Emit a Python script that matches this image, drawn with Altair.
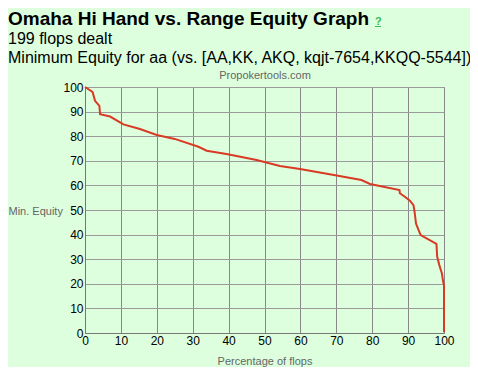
import altair as alt
import pandas as pd

pct = [0, 2.1, 2.8, 4.0, 4.2, 7.0, 10.7, 15.3, 20.0, 25.0, 31.6, 33.9, 39.4, 47.8, 54.3,
       59.9, 70.1, 77.0, 79.4, 87.6, 87.7, 89.1, 90.5, 91.5, 91.8, 92.2, 92.9, 93.5,
       97.9, 98.1, 98.7, 99.4, 99.8, 100.0, 100.0]
equity = [100, 98.0, 94.4, 92.3, 88.9, 88.0, 84.8, 82.9, 80.5, 78.9, 75.7, 74.1, 72.8, 70.3, 67.9,
          66.7, 64.0, 62.2, 60.6, 58.1, 56.8, 55.4, 53.8, 52.0, 49.3, 44.5, 41.9, 39.8,
          36.2, 31.0, 27.6, 24.3, 20.6, 19.5, 0.3]
ticks = [0, 10, 20, 30, 40, 50, 60, 70, 80, 90, 100]

title = "Omaha Hi Hand vs. Range Equity Graph"
sub1 = "199 flops dealt"
sub2 = "Minimum Equity for aa (vs. [AA,KK, AKQ, kqjt-7654,KKQQ-5544])"

df = pd.DataFrame({"pct": pct, "equity": equity, "order": list(range(len(pct)))})

W, H = 359, 246
FONT = "Liberation Sans"

base = alt.Chart(df)

line = base.mark_line(color="#d83a25", strokeWidth=2, interpolate="linear").encode(
    x=alt.X("pct:Q", scale=alt.Scale(domain=[0, 100], nice=False),
            axis=alt.Axis(values=ticks, title="Percentage of flops", grid=True,
                          gridColor="#888888", gridOpacity=1, domainColor="#777777",
                          ticks=False, labelPadding=2, labelFontSize=12, labelColor="#000000",
                          labelFlush=False, labelOverlap=False,
                          labelFont=FONT, titleFont=FONT, titleFontSize=11, titleFontWeight="normal",
                          titleColor="#666666", titlePadding=9)),
    y=alt.Y("equity:Q", scale=alt.Scale(domain=[0, 100], nice=False),
            axis=alt.Axis(values=ticks, title="Min. Equity", grid=True,
                          gridColor="#9a9a9a", gridOpacity=1, domainColor="#777777",
                          ticks=False, labelPadding=2, labelFontSize=12, labelColor="#000000",
                          labelFlush=False, labelOverlap=False,
                          labelFont=FONT, titleFont=FONT, titleFontSize=11, titleFontWeight="normal",
                          titleColor="#666666", titleAngle=0, titleAlign="left",
                          titleBaseline="middle", titleX=-77, titleY=124)),
    order="order:Q",
)

def txt(s, x, y, size, weight="normal", color="#000000", align="left"):
    return alt.Chart(pd.DataFrame({"t": [s]})).mark_text(
        text=s, align=align, baseline="alphabetic", fontSize=size, fontWeight=weight,
        color=color, font=FONT
    ).encode(x=alt.value(x), y=alt.value(y))

t1 = txt(title, -77, -62, 19, weight="bold")
q = txt("?", 290, -62, 11, weight="bold", color="#33bb55")
qline = alt.Chart(pd.DataFrame({"t": [0]})).mark_rule(color="#33bb55", strokeWidth=1).encode(
    x=alt.value(290), x2=alt.value(296), y=alt.value(-60.5))
s1 = txt(sub1, -77, -43, 16)
s2 = txt(sub2, -77, -24, 16)
brand = txt("Propokertools.com", 180, -8, 11, color="#666666", align="center")

chart = alt.layer(line, t1, q, qline, s1, s2, brand).properties(
    width=W, height=H,
    autosize=alt.AutoSizeParams(type="none"),
    padding={"left": 77, "top": 79, "right": 26, "bottom": 34},
    background="#ddffdd",
).configure_view(stroke="#888888", strokeWidth=1)

chart.save("out.html", embed_options={"renderer": "svg", "actions": False})
